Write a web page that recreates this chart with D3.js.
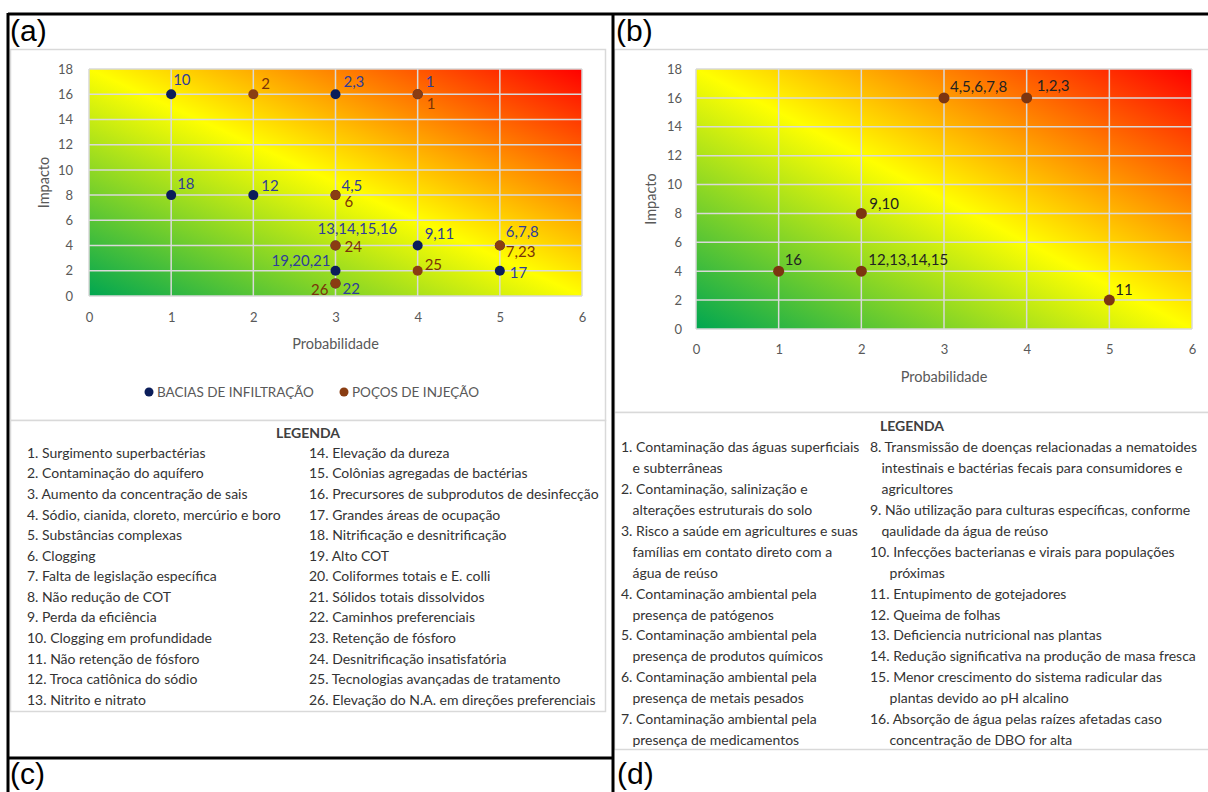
<!DOCTYPE html>
<html lang="pt">
<head>
<meta charset="utf-8">
<title>Matriz de risco</title>
<script src="https://cdn.jsdelivr.net/npm/d3@7"></script>
<style>
  body { margin: 0; background: #fff; }
  svg text { font-family: Lato, "Open Sans", sans-serif; }
  .panel-tag { font-family: "Liberation Sans", Arial, sans-serif !important; font-size: 30px; fill: #000; }
  .tick text { fill: #595959; font-size: 13px; font-family: Lato, "Open Sans", sans-serif; }
  .axis-title { fill: #595959; font-size: 14.5px; }
  .leg-title { fill: #404040; font-size: 14px; font-weight: bold; }
  .leg-item { fill: #333; font-size: 14px; }
</style>
</head>
<body>
<script>

// ---- data ----
var probTicks = [0, 1, 2, 3, 4, 5, 6];
var impactTicks = [0, 2, 4, 6, 8, 10, 12, 14, 16, 18];

// (a) bacias de infiltracao
var baciasProb   = [1, 3, 4, 1, 2, 3, 3, 4, 5, 3, 5, 3];
var baciasImpact = [16, 16, 16, 8, 8, 8, 4, 4, 4, 2, 2, 1];
var baciasLabels = ["10", "2,3", "1", "18", "12", "4,5", "13,14,15,16", "9,11", "6,7,8", "19,20,21", "17", "22"];

// (a) pocos de injecao
var pocosProb   = [2, 4, 3, 3, 5, 4, 3];
var pocosImpact = [16, 16, 8, 4, 4, 2, 1];
var pocosLabels = ["2", "1", "6", "24", "7,23", "25", "26"];

// (b) reuso agricola
var reusoProb   = [3, 4, 2, 1, 2, 5];
var reusoImpact = [16, 16, 8, 4, 4, 2];
var reusoLabels = ["4,5,6,7,8", "1,2,3", "9,10", "16", "12,13,14,15", "11"];

var seriesNames = ["BACIAS DE INFILTRAÇÃO", "POÇOS DE INJEÇÃO"];

var legendALeft = [
  "1. Surgimento superbactérias",
  "2. Contaminação do aquífero",
  "3. Aumento da concentração de sais",
  "4. Sódio, cianida, cloreto, mercúrio e boro",
  "5. Substâncias complexas",
  "6. Clogging",
  "7. Falta de legislação específica",
  "8. Não redução de COT",
  "9. Perda da eficiência",
  "10. Clogging em profundidade",
  "11. Não retenção de fósforo",
  "12. Troca catiônica do sódio",
  "13. Nitrito e nitrato"
];
var legendARight = [
  "14. Elevação da dureza",
  "15. Colônias agregadas de bactérias",
  "16. Precursores de subprodutos de desinfecção",
  "17. Grandes áreas de ocupação",
  "18. Nitrificação e desnitrificação",
  "19. Alto COT",
  "20. Coliformes totais e E. colli",
  "21. Sólidos totais dissolvidos",
  "22. Caminhos preferenciais",
  "23. Retenção de fósforo",
  "24. Desnitrificação insatisfatória",
  "25. Tecnologias avançadas de tratamento",
  "26. Elevação do N.A. em direções preferenciais"
];

var legendBLeft = [
  ["1. Contaminação das águas superficiais", "e subterrâneas"],
  ["2. Contaminação, salinização e", "alterações estruturais do solo"],
  ["3. Risco a saúde em agricultures e suas", "famílias em contato direto com a", "água de reúso"],
  ["4. Contaminação ambiental pela", "presença de patógenos"],
  ["5. Contaminação ambiental pela", "presença de produtos químicos"],
  ["6. Contaminação ambiental pela", "presença de metais pesados"],
  ["7. Contaminação ambiental pela", "presença de medicamentos"]
];
var legendBRight = [
  ["8. Transmissão de doenças relacionadas a nematoides", "intestinais e bactérias fecais para consumidores e", "agricultores"],
  ["9. Não utilização para culturas específicas, conforme", "qaulidade da água de reúso"],
  ["10. Infecções bacterianas e virais para populações", "próximas"],
  ["11. Entupimento de gotejadores"],
  ["12. Queima de folhas"],
  ["13. Deficiencia nutricional nas plantas"],
  ["14. Redução significativa na produção de masa fresca"],
  ["15. Menor crescimento do sistema radicular das", "plantas devido ao pH alcalino"],
  ["16. Absorção de água pelas raízes afetadas caso", "concentração de DBO for alta"]
];

// where each point label sits relative to its point [dx, dy, anchor]
var baciasLabelPos = [[2,-14,"start"],[8,-12,"start"],[8,-12,"start"],[6,-11,"start"],[8,-9,"start"],[6,-9,"start"],
                      [-18,-17,"start"],[7,-12,"start"],[6,-14,"start"],[-5,-10,"end"],[10,2,"start"],[7,5,"start"]];
var pocosLabelPos  = [[8,-10,"start"],[9,10,"start"],[9,7,"start"],[9,1,"start"],[6,6,"start"],[7,-6,"start"],[-7,6,"end"]];
var reusoLabelPos  = [[6,-11,"start"],[10,-12,"start"],[8,-10,"start"],[6,-11,"start"],[7,-11,"start"],[6,-10,"start"]];

var blueDot = "#0b1d5a", blueText = "#2f3d99";
var brownDot = "#8a3d12", brownText = "#7a3309";

var svg = d3.select("body").append("svg")
    .attr("width", 1208)
    .attr("height", 792);

// risk gradient, green (bottom-left) -> yellow -> red (top-right)
var grad = svg.append("defs").append("linearGradient")
    .attr("id", "risk")
    .attr("x1", 0).attr("y1", 1).attr("x2", 1).attr("y2", 0);
grad.append("stop").attr("offset", "0%").attr("stop-color", "#00a651");
grad.append("stop").attr("offset", "50%").attr("stop-color", "#ffff00");
grad.append("stop").attr("offset", "100%").attr("stop-color", "#ff0000");

// chart and legend boxes
function box(x, y, w, h) {
  svg.append("rect")
    .attr("x", x).attr("y", y).attr("width", w).attr("height", h)
    .attr("fill", "#fff").attr("stroke", "#d9d9d9").attr("stroke-width", 1.5);
}
box(10.5, 49.5, 595, 371);
box(10.5, 420.5, 595, 291);
box(614.5, 49.5, 620, 363);
box(614.5, 412.5, 620, 337);

function riskPanel(left, right, bottom, top, xPad, yPad) {
  var x = d3.scaleLinear().domain([0, 6]).range([left, right]);
  var y = d3.scaleLinear().domain([0, 18]).range([bottom, top]);
  var g = svg.append("g");

  g.append("rect")
    .attr("x", x(0)).attr("y", y(18))
    .attr("width", x(6) - x(0)).attr("height", y(0) - y(18))
    .attr("fill", "url(#risk)");

  g.selectAll(".vgrid").data(probTicks).enter().append("line")
    .attr("x1", d => x(d)).attr("x2", d => x(d))
    .attr("y1", y(0)).attr("y2", y(18))
    .attr("stroke", "#d9d9d9").attr("stroke-width", 1.5);
  g.selectAll(".hgrid").data(impactTicks).enter().append("line")
    .attr("x1", x(0)).attr("x2", x(6))
    .attr("y1", d => y(d)).attr("y2", d => y(d))
    .attr("stroke", "#d9d9d9").attr("stroke-width", 1.5);

  var xAxis = d3.axisBottom(x).tickValues(probTicks).tickFormat(d3.format("d")).tickSize(0).tickPadding(xPad);
  var yAxis = d3.axisLeft(y).tickValues(impactTicks).tickFormat(d3.format("d")).tickSize(0).tickPadding(yPad);
  g.append("g").attr("transform", "translate(0," + y(0) + ")").call(xAxis)
    .call(a => a.select(".domain").remove());
  g.append("g").attr("transform", "translate(" + x(0) + ",0)").call(yAxis)
    .call(a => a.select(".domain").remove());

  g.append("text").attr("class", "axis-title")
    .attr("text-anchor", "middle")
    .attr("x", (x(0) + x(6)) / 2).attr("y", y(0) + 48)
    .attr("dy", "0.35em")
    .text("Probabilidade");
  g.append("text").attr("class", "axis-title")
    .attr("text-anchor", "middle")
    .attr("transform", "translate(" + (x(0) - 45) + "," + ((y(0) + y(18)) / 2) + ")rotate(-90)")
    .attr("dy", "0.35em")
    .text("Impacto");

  return {x: x, y: y, g: g};
}

function drawPoints(p, probs, impacts, labels, pos, dotColor, textColor, r) {
  var pts = probs.map((d, i) => ({p: d, i: impacts[i], label: labels[i], pos: pos[i]}));
  p.g.selectAll(null).data(pts).enter().append("circle")
    .attr("cx", d => p.x(d.p)).attr("cy", d => p.y(d.i))
    .attr("r", r).attr("fill", dotColor);
  p.g.selectAll(null).data(pts).enter().append("text")
    .attr("x", d => p.x(d.p) + d.pos[0])
    .attr("y", d => p.y(d.i) + d.pos[1])
    .attr("dy", "0.35em")
    .attr("text-anchor", d => d.pos[2])
    .attr("fill", textColor)
    .style("font-size", "15px")
    .text(d => d.label);
}

// (a)
var pa = riskPanel(89, 582, 296, 69, 17, 16);
drawPoints(pa, baciasProb, baciasImpact, baciasLabels, baciasLabelPos, blueDot, blueText, 5);
drawPoints(pa, pocosProb, pocosImpact, pocosLabels, pocosLabelPos, brownDot, brownText, 5);

// series legend under (a)
var serLeg = svg.append("g").attr("transform", "translate(0,392)");
[[149, blueDot], [344, brownDot]].forEach(function(s, i) {
  serLeg.append("circle").attr("cx", s[0]).attr("cy", 0).attr("r", 4.5).attr("fill", s[1]);
  serLeg.append("text").attr("x", s[0] + 8).attr("y", 0).attr("dy", "0.35em")
    .attr("fill", "#595959").style("font-size", "13.5px")
    .text(seriesNames[i]);
});

// (b)
var pb = riskPanel(696, 1192, 329, 69, 16, 14);
drawPoints(pb, reusoProb, reusoImpact, reusoLabels, reusoLabelPos, "#7c3510", "#222", 5.5);

// legend (a)
svg.append("text").attr("class", "leg-title")
  .attr("x", 308).attr("y", 433).attr("dy", "0.35em")
  .attr("text-anchor", "middle").text("LEGENDA");
function simpleColumn(items, x0, y0, step) {
  svg.selectAll(null).data(items).enter().append("text")
    .attr("class", "leg-item")
    .attr("x", x0).attr("y", (d, i) => y0 + i * step)
    .attr("dy", "0.35em")
    .text(d => d);
}
simpleColumn(legendALeft, 27, 453, 20.56);
simpleColumn(legendARight, 309, 453, 20.56);

// legend (b), wrapped items with hanging indent
svg.append("text").attr("class", "leg-title")
  .attr("x", 912).attr("y", 426).attr("dy", "0.35em")
  .attr("text-anchor", "middle").text("LEGENDA");
function wrappedColumn(items, x0, y0, step) {
  var row = 0;
  items.forEach(function(lines) {
    var num = lines[0].split(" ")[0] + " ";
    var probe = svg.append("text").attr("class", "leg-item").text(num);
    var indent = probe.node().getComputedTextLength();
    probe.remove();
    lines.forEach(function(line, k) {
      svg.append("text").attr("class", "leg-item")
        .attr("x", k === 0 ? x0 : x0 + indent)
        .attr("y", y0 + row * step)
        .attr("dy", "0.35em")
        .text(line);
      row++;
    });
  });
}
wrappedColumn(legendBLeft, 621, 447, 20.95);
wrappedColumn(legendBRight, 870, 447, 20.95);

// table frame
var frame = [[8, 14, 1208, 14], [8, 13, 8, 792], [613, 13, 613, 792], [8, 758, 613, 758]];
svg.selectAll(null).data(frame).enter().append("line")
  .attr("x1", d => d[0]).attr("y1", d => d[1])
  .attr("x2", d => d[2]).attr("y2", d => d[3])
  .attr("stroke", "#000").attr("stroke-width", 3);

[["(a)", 10, 41], ["(b)", 616, 41], ["(c)", 10, 784], ["(d)", 617, 784]].forEach(function(t) {
  svg.append("text").attr("class", "panel-tag").attr("x", t[1]).attr("y", t[2]).text(t[0]);
});

</script>
</body>
</html>
